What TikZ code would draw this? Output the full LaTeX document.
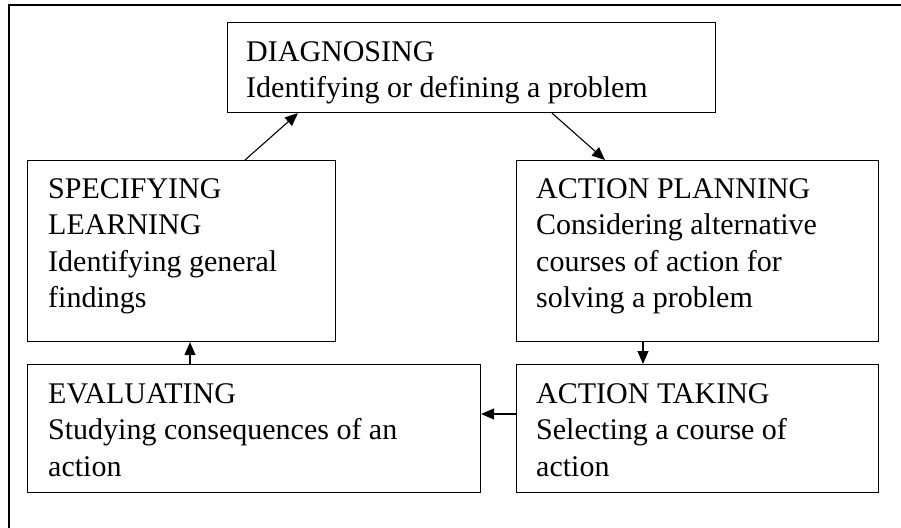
\documentclass[tikz,border=0pt]{standalone}
\usepackage{fontspec}
\setmainfont{Liberation Serif}
\usetikzlibrary{arrows.meta,calc}
\tikzset{
  stagebox/.style={draw=black, line width=1.1pt, rectangle, inner sep=0pt, anchor=north west},
  stagetext/.style={anchor=north west, inner sep=0pt, align=left, font=\fontsize{30}{36.5}\selectfont},
  flow/.style={line width=1.1pt, -{Triangle[length=13pt,width=11pt]}}
}
\begin{document}
\begin{tikzpicture}[x=1pt,y=-1pt]
\useasboundingbox (0,0) rectangle (901,527);
% outer frame (cut off at right and bottom)
\coordinate (fbl) at (9,530);
\coordinate (ftl) at (9,5);
\coordinate (ftr) at (905,5);
\draw[line width=1.4pt] (fbl) -- (ftl) -- (ftr);

\node[stagebox, minimum width=488pt, minimum height=90pt] (diag) at (227,22) {};
\node[stagetext] (diagt) at ($(diag.north west)+(19,19)$) {DIAGNOSING\\Identifying or defining a problem};

\node[stagebox, minimum width=308pt, minimum height=181pt] (spec) at (27,160) {};
\node[stagetext] (spect) at ($(spec.north west)+(21,18)$) {SPECIFYING\\LEARNING\\Identifying general\\findings};

\node[stagebox, minimum width=362pt, minimum height=181pt] (plan) at (516,160) {};
\node[stagetext] (plant) at ($(plan.north west)+(20,18)$) {ACTION PLANNING\\Considering alternative\\courses of action for\\solving a problem};

\node[stagebox, minimum width=453pt, minimum height=128pt] (eval) at (27,364) {};
\node[stagetext] (evalt) at ($(eval.north west)+(21,19)$) {EVALUATING\\Studying consequences of an\\action};

\node[stagebox, minimum width=362pt, minimum height=128pt] (take) at (516,364) {};
\node[stagetext] (taket) at ($(take.north west)+(20,19)$) {ACTION TAKING\\Selecting a course of\\action};

\draw[flow] ($(spec.north west)+(218,0)$) -- ($(diag.south west)+(71,0)$);
\draw[flow] ($(diag.south west)+(325,0)$) -- ($(plan.north west)+(89,0)$);
\draw[flow] ($(plan.south west)+(127,0)$) -- ($(take.north west)+(127,0)$);
\draw[flow] ($(take.north west)+(0,50)$) -- ($(eval.north east)+(0,50)$);
\draw[flow] ($(eval.north west)+(163,0)$) -- ($(spec.south west)+(163,0)$);
\end{tikzpicture}
\end{document}
